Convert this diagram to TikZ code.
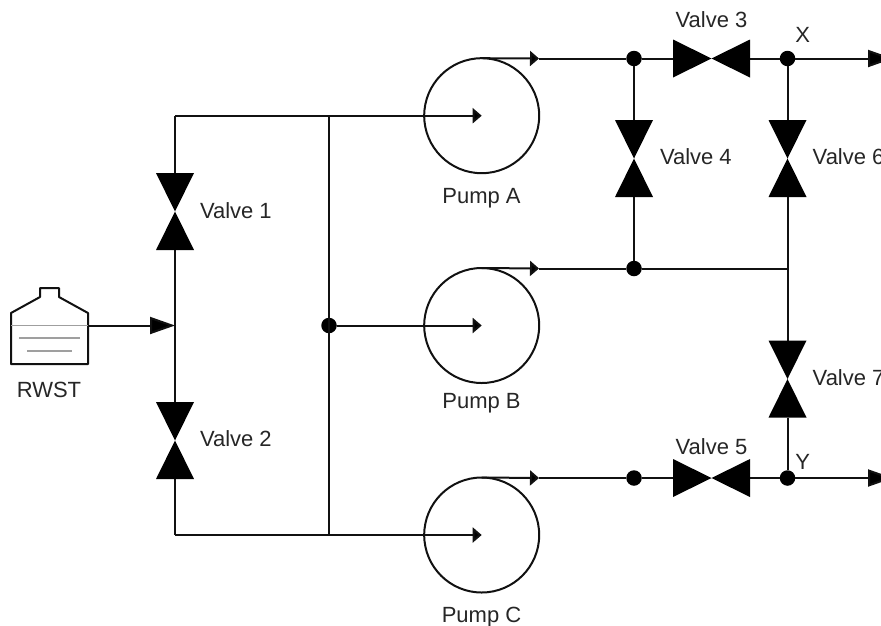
\documentclass[tikz,border=0pt]{standalone}
\usepackage{fontspec}
\setmainfont{Liberation Sans}
\usetikzlibrary{arrows.meta}
\definecolor{ink}{HTML}{111111}
\definecolor{txt}{HTML}{262626}
\tikzset{
  pipe/.style={draw=ink,line width=2pt},
  pumpc/.style={circle,draw=ink,line width=2pt,minimum size=115pt,inner sep=0pt,outer sep=0pt},
  jn/.style={circle,fill=black,minimum size=15.5pt,inner sep=0pt,outer sep=0pt},
  hvalve/.style={rectangle,minimum width=77pt,minimum height=38pt,inner sep=0pt,outer sep=0pt},
  vvalve/.style={rectangle,minimum width=38pt,minimum height=77pt,inner sep=0pt,outer sep=0pt},
  lbl/.style={font=\fontsize{22}{26}\selectfont,text=txt,inner sep=0pt,outer sep=0pt,text height=15.8pt,text depth=0pt},
  lbll/.style={lbl,anchor=west},
  bigtip/.style={-{Triangle[length=25pt,width=17pt,fill=black]}},
  midtip/.style={-{Triangle[length=9pt,width=15pt,fill=black]}},
}
\newcommand{\hbow}[1]{\fill[black] (#1.north west) -- (#1.south west) -- (#1.north east) -- (#1.south east) -- cycle;}
\newcommand{\vbow}[1]{\fill[black] (#1.north west) -- (#1.north east) -- (#1.south west) -- (#1.south east) -- cycle;}
\begin{document}
\begin{tikzpicture}[x=1pt,y=-1pt]
\useasboundingbox (0,0) rectangle (881,625);
\clip (0,0) rectangle (881,625);
% pumps
\node[pumpc] (pa) at (481.7,115.7) {};
\node[pumpc] (pb) at (481.7,325.5) {};
\node[pumpc] (pc) at (481.7,535) {};
\coordinate (ia) at (pa.center);
\coordinate (ib) at (pb.center);
\coordinate (ic) at (pc.center);
% valves
\node[vvalve] (v1) at (175,211.5) {};
\node[vvalve] (v2) at (175,440.5) {};
\node[hvalve] (v3) at (711.5,58.5) {};
\node[vvalve] (v4) at (634,158.5) {};
\node[hvalve] (v5) at (711.5,478) {};
\node[vvalve] (v6) at (787.5,158.5) {};
\node[vvalve] (v7) at (787.5,379) {};
% junctions
\node[jn] (j1) at (634,58.5) {};
\node[jn] (jx) at (787.5,58.5) {};
\node[jn] (j2) at (634,268.5) {};
\node[jn] (j3) at (634,478) {};
\node[jn] (jy) at (787.5,478) {};
\node[jn] (jm) at (329,325.5) {};
% free points
\coordinate (tl) at (175,115.7);
\coordinate (bl) at (175,535);
\coordinate (mt) at (329,115.7);
\coordinate (mb) at (329,535);
\coordinate (cj) at (175,325.5);
\coordinate (r2) at (787.5,268.5);
\coordinate (ax) at (539,58.5);
\coordinate (ay) at (539,268.5);
\coordinate (az) at (539,478);
\coordinate (ex) at (893,58.5);
\coordinate (ey) at (893,478);
% tank
\node[inner sep=0pt,outer sep=0pt,minimum size=0pt] (tank) at (88,325.5) {};
\draw[pipe,line join=round] (11,364) -- (11,313) -- (40,297) -- (40,288) -- (59,288) -- (59,297) -- (88,313) -- (88,364) -- cycle;
\draw[draw=gray!75,line width=1.3pt] (11,325.5) -- (88,325.5);
\draw[draw=gray!75,line width=1.3pt] (19,338) -- (80,338);
\draw[draw=gray!75,line width=1.3pt] (27,351) -- (72,351);
\draw[pipe,bigtip] (tank) -- (cj);
% left loop
\draw[pipe] (v1.south) -- (v2.north);
\draw[pipe] (v1.north) -- (tl);
\draw[pipe,midtip] (tl) -- (ia);
\draw[pipe] (v2.south) -- (bl);
\draw[pipe,midtip] (bl) -- (ic);
\draw[pipe] (mt) -- (mb);
\draw[pipe,midtip] (jm) -- (ib);
% outlets
\draw[pipe,midtip] (pa.north) -- (ax);
\draw[pipe,midtip] (pb.north) -- (ay);
\draw[pipe,midtip] (pc.north) -- (az);
\draw[pipe] (ax) -- (j1);
\draw[pipe] (j1) -- (v3);
\draw[pipe] (v3) -- (jx);
\draw[pipe,bigtip] (jx) -- (ex);
\draw[pipe] (ay) -- (j2);
\draw[pipe] (j2) -- (r2);
\draw[pipe] (az) -- (j3);
\draw[pipe] (j3) -- (v5);
\draw[pipe] (v5) -- (jy);
\draw[pipe,bigtip] (jy) -- (ey);
\draw[pipe] (j1) -- (v4);
\draw[pipe] (v4) -- (j2);
\draw[pipe] (jx) -- (v6);
\draw[pipe] (v6) -- (r2);
\draw[pipe] (r2) -- (v7);
\draw[pipe] (v7) -- (jy);
% valve bodies
\vbow{v1}\vbow{v2}\hbow{v3}\vbow{v4}\hbow{v5}\vbow{v6}\vbow{v7}
% labels
\node[lbl] (lr) at (49,390) {RWST};
\node[lbl] (la) at (481.5,195.5) {Pump A};
\node[lbl] (lb) at (481.5,401) {Pump B};
\node[lbl] (lc) at (481.5,615) {Pump C};
\node[lbll] (l1) at (200,211) {Valve 1};
\node[lbll] (l2) at (200,439) {Valve 2};
\node[lbl] (l3) at (711.5,20) {Valve 3};
\node[lbll] (l4) at (660,157) {Valve 4};
\node[lbl] (l5) at (711.5,447) {Valve 5};
\node[lbll] (l6) at (812.7,157) {Valve 6};
\node[lbll] (l7) at (812.7,378) {Valve 7};
\node[lbl] (lx) at (802.7,35) {X};
\node[lbl] (ly) at (802.7,462) {Y};
\end{tikzpicture}
\end{document}
